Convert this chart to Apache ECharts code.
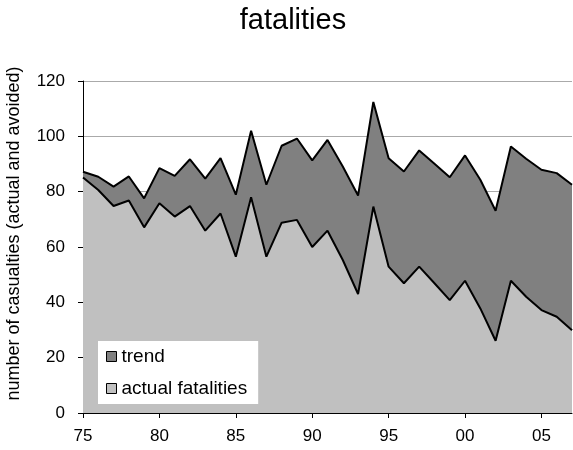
<!DOCTYPE html>
<html>
<head>
<meta charset="utf-8">
<script src="https://cdn.jsdelivr.net/npm/echarts@6/dist/echarts.min.js"></script>
<style>html,body{margin:0;padding:0;background:#fff}#c{width:573px;height:450px}</style>
</head>
<body>
<div id="c"></div>
<script>
var years = ['75','76','77','78','79','80','81','82','83','84','85','86','87','88','89','90','91','92','93','94','95','96','97','98','99','00','01','02','03','04','05','06','07'];
var trend = [87.2,85.4,81.8,85.5,77.6,88.5,85.7,91.7,84.7,92.1,78.9,102.0,82.5,96.6,99.2,91.3,98.7,89.1,78.6,112.4,92.1,87.3,94.9,90.1,85.2,93.1,84.3,73.1,96.3,91.9,87.9,86.7,82.5];
var actual = [85.1,80.6,74.8,76.8,67.1,75.8,71.0,74.8,65.9,72.1,56.5,78.0,56.5,68.8,69.8,60.0,65.9,55.3,43.0,74.6,52.9,46.9,52.9,46.9,40.8,47.8,37.8,26.1,47.8,42.0,37.2,34.8,29.9];
var yTicks = {min: 0, max: 120, interval: 20};

var font = 'Liberation Sans, Arial, sans-serif';
var chart = echarts.init(document.getElementById('c'));
chart.setOption({
  animation: false,
  backgroundColor: '#fff',
  title: {
    text: 'fatalities', left: 288, top: 1, textAlign: 'center',
    textStyle: {fontFamily: font, fontSize: 29, fontWeight: 'normal', color: '#000'}
  },
  legend: {
    orient: 'vertical', left: 98, top: 341,
    backgroundColor: '#fff', padding: [6, 11, 6, 8], itemGap: 13,
    icon: 'rect', itemWidth: 10, itemHeight: 10,
    itemStyle: {borderColor: '#000', borderWidth: 1},
    textStyle: {fontFamily: font, fontSize: 19, color: '#000'},
    data: ['trend', 'actual fatalities']
  },
  grid: {left: 83, right: 1, top: 81, bottom: 37, containLabel: false, outerBoundsMode: 'none'},
  xAxis: {
    type: 'category', data: years, boundaryGap: false,
    axisLine: {lineStyle: {color: '#000', width: 1}},
    axisTick: {interval: 4, length: 5, lineStyle: {color: '#000'}},
    axisLabel: {interval: 4, margin: 15, fontFamily: font, fontSize: 17, color: '#000'},
    splitLine: {show: false}
  },
  yAxis: {
    type: 'value', min: yTicks.min, max: yTicks.max, interval: yTicks.interval,
    name: 'number of casualties (actual and avoided)', nameLocation: 'middle', nameGap: 60,
    nameTextStyle: {fontFamily: font, fontSize: 18, color: '#000', padding: [0, 0, 0, 27]},
    axisLine: {show: true, lineStyle: {color: '#000', width: 1}},
    axisTick: {show: true, length: 5, lineStyle: {color: '#000'}},
    axisLabel: {margin: 18, fontFamily: font, fontSize: 17, color: '#000'},
    splitLine: {show: true, lineStyle: {color: '#aaa', width: 1}}
  },
  series: [
    {
      name: 'trend', type: 'line', data: trend, symbol: 'none',
      color: '#808080',
      itemStyle: {color: '#808080', borderColor: '#000', borderWidth: 1},
      lineStyle: {color: '#000', width: 2},
      areaStyle: {color: '#808080', opacity: 1},
      z: 2
    },
    {
      name: 'actual fatalities', type: 'line', data: actual, symbol: 'none',
      color: '#c0c0c0',
      itemStyle: {color: '#c0c0c0', borderColor: '#000', borderWidth: 1},
      lineStyle: {color: '#000', width: 2},
      areaStyle: {color: '#c0c0c0', opacity: 1},
      z: 3
    }
  ]
});
</script>
</body>
</html>
